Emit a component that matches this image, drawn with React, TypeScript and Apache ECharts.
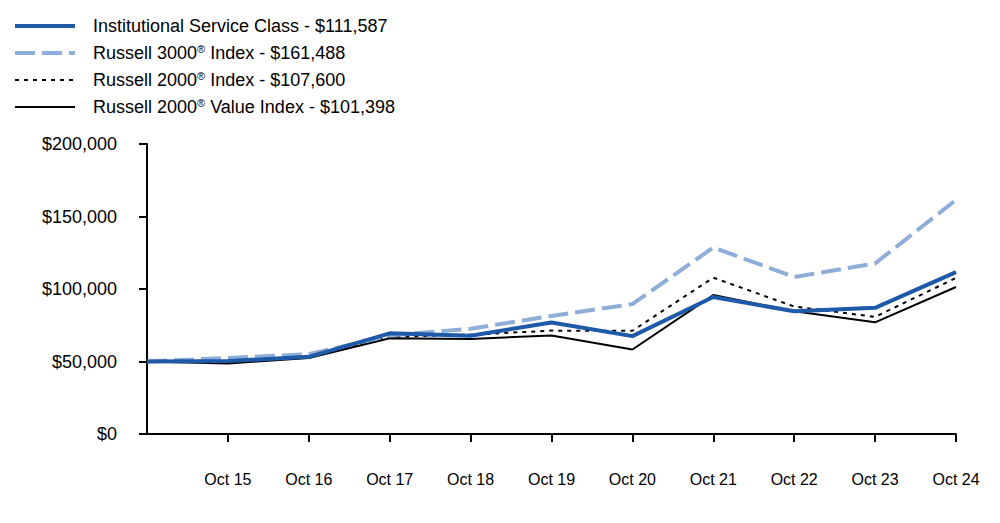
import React, { useEffect, useRef } from "react";
import * as echarts from "echarts";

const categories = ["Oct 14", "Oct 15", "Oct 16", "Oct 17", "Oct 18", "Oct 19", "Oct 20", "Oct 21", "Oct 22", "Oct 23", "Oct 24"];
const institutional = [50000, 50300, 53200, 69400, 67800, 76900, 67500, 94500, 84600, 87000, 111587];
const russell3000 = [50000, 52500, 55000, 68000, 72600, 81400, 89600, 128600, 108300, 117600, 161488];
const russell2000 = [50000, 49800, 53000, 67000, 68500, 71300, 71200, 107800, 87900, 80800, 107600];
const russell2000Value = [50000, 48700, 52400, 66000, 65600, 68000, 58300, 95800, 84600, 77000, 101398];
const yTicks = [0, 50000, 100000, 150000, 200000];

const seriesNames = [
  "Institutional Service Class - $111,587",
  "Russell 3000® Index - $161,488",
  "Russell 2000® Index - $107,600",
  "Russell 2000® Value Index - $101,398",
];

const FONT = "'Liberation Sans', Arial, sans-serif";

export default function App() {
  const ref = useRef<HTMLDivElement>(null);
  useEffect(() => {
    if (!ref.current) return;
    const chart = echarts.init(ref.current, null, { renderer: "svg" });
    chart.setOption({
      animation: false,
      backgroundColor: "#ffffff",
      textStyle: { fontFamily: FONT, color: "#000" },
      legend: {
        orient: "vertical",
        left: 13,
        top: 17,
        padding: 0,
        itemWidth: 60,
        itemHeight: 18,
        itemGap: 8,
        data: seriesNames,
        itemStyle: { opacity: 0 },
        lineStyle: { width: "inherit" },
        formatter: (name: string) => {
          const parts = name.split("®");
          if (parts.length === 1) return `{a|${name}}`;
          return `{a|${parts[0]}}{sup|®}{a|${parts[1]}}`;
        },
        textStyle: {
          padding: [0, 0, 0, 13],
          rich: {
            a: { fontSize: 18, fontFamily: FONT, color: "#000", lineHeight: 20 },
            sup: { fontSize: 11, fontFamily: FONT, color: "#000", verticalAlign: "top", lineHeight: 12 },
          },
        },
      },
      grid: { left: 147, right: 44, top: 144, bottom: 89, containLabel: false },
      xAxis: {
        type: "category",
        boundaryGap: false,
        data: categories,
        axisLine: { lineStyle: { color: "#000", width: 2 } },
        axisTick: {
          length: 8,
          interval: (i: number) => i > 0,
          lineStyle: { color: "#000", width: 2 },
        },
        axisLabel: {
          interval: (i: number) => i > 0,
          fontSize: 16,
          fontFamily: FONT,
          color: "#000",
          margin: 37,
        },
        splitLine: { show: false },
      },
      yAxis: {
        type: "value",
        min: yTicks[0],
        max: yTicks[yTicks.length - 1],
        interval: yTicks[1] - yTicks[0],
        axisLine: { show: true, lineStyle: { color: "#000", width: 2 } },
        axisTick: { show: true, length: 8, lineStyle: { color: "#000", width: 2 } },
        axisLabel: {
          fontSize: 18,
          fontFamily: FONT,
          color: "#000",
          margin: 30,
          formatter: (v: number) => "$" + v.toLocaleString("en-US"),
        },
        splitLine: { show: false },
      },
      series: [
        {
          name: seriesNames[0],
          type: "line",
          data: institutional,
          symbol: "none",
          z: 5,
          lineStyle: { color: "#1e5aa8", width: 4 },
          itemStyle: { color: "#1e5aa8" },
        },
        {
          name: seriesNames[1],
          type: "line",
          data: russell3000,
          symbol: "none",
          z: 3,
          lineStyle: { color: "#8fadd9", width: 4, type: [20, 7] },
          itemStyle: { color: "#8fadd9" },
        },
        {
          name: seriesNames[2],
          type: "line",
          data: russell2000,
          symbol: "none",
          z: 2,
          lineStyle: { color: "#000", width: 2, type: [4, 5] },
          itemStyle: { color: "#000" },
        },
        {
          name: seriesNames[3],
          type: "line",
          data: russell2000Value,
          symbol: "none",
          z: 2,
          lineStyle: { color: "#000", width: 2 },
          itemStyle: { color: "#000" },
        },
      ],
    });
    return () => chart.dispose();
  }, []);
  return <div ref={ref} style={{ width: 1000, height: 523, position: "absolute", left: 0, top: 0 }} />;
}
